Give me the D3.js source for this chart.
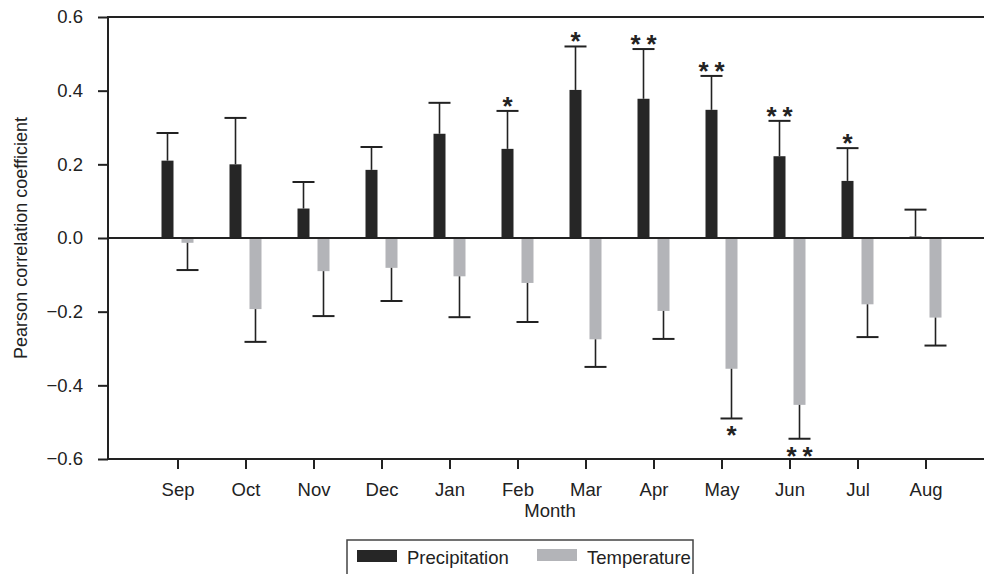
<!DOCTYPE html>
<html>
<head>
<meta charset="utf-8">
<script src="https://cdn.jsdelivr.net/npm/d3@7"></script>
<style>
  html, body { margin: 0; padding: 0; background: #fff; }
  svg { display: block; }
  text { font-family: "Liberation Sans", Arial, Helvetica, sans-serif; fill: #222; }
</style>
</head>
<body>
<svg id="chart" width="984" height="574"></svg>
<script>
const months = ['Sep','Oct','Nov','Dec','Jan','Feb','Mar','Apr','May','Jun','Jul','Aug'];
const precipitation = [0.21, 0.20, 0.08, 0.185, 0.283, 0.242, 0.402, 0.378, 0.348, 0.222, 0.155, 0.004];
const precipitationUpper = [0.285, 0.326, 0.152, 0.247, 0.367, 0.345, 0.52, 0.513, 0.44, 0.318, 0.244, 0.077];
const temperature = [-0.013, -0.193, -0.09, -0.081, -0.104, -0.122, -0.275, -0.198, -0.355, -0.453, -0.18, -0.216];
const temperatureLower = [-0.087, -0.282, -0.212, -0.171, -0.215, -0.228, -0.35, -0.274, -0.49, -0.545, -0.269, -0.292];
const precipitationSig = ['', '', '', '', '', '*', '*', '**', '**', '**', '*', ''];
const temperatureSig = ['', '', '', '', '', '', '', '', '*', '**', '', ''];
const yTicks = [-0.6, -0.4, -0.2, 0.0, 0.2, 0.4, 0.6];
const seriesNames = ['Precipitation', 'Temperature'];
const colors = ['#262626', '#b3b4b8'];
const ink = '#222';

(function () {
const svg = d3.select('#chart');
const mLeft = 108, mRight = 992, mTop = 17, mBottom = 459;

const x = d3.scalePoint().domain(months).range([177.5, 925.5]);
const y = d3.scaleLinear().domain([-0.6, 0.6]).range([mBottom, mTop]);
const barW = 12, off = 10, capW = 22;
const starSize = 26, starSpace = 6;

// Y axis
const yAxis = svg.append('g').attr('transform', `translate(${mLeft},0)`)
  .call(d3.axisLeft(y).tickValues(yTicks).tickFormat(d3.format('.1f')).tickSize(10).tickPadding(15));
yAxis.select('.domain').remove();
yAxis.selectAll('.tick line').attr('stroke', ink).attr('stroke-width', 2);
yAxis.selectAll('.tick text').style('font-size', '18.5px').attr('fill', ink);

// X axis
const xAxis = svg.append('g').attr('transform', `translate(0,${mBottom})`)
  .call(d3.axisBottom(x).tickSize(10).tickPadding(14));
xAxis.select('.domain').remove();
xAxis.selectAll('.tick line').attr('stroke', ink).attr('stroke-width', 2);
xAxis.selectAll('.tick text').style('font-size', '18.5px').attr('fill', ink);

// frame lines
svg.append('line').attr('x1', mLeft).attr('x2', mLeft).attr('y1', mTop - 1).attr('y2', mBottom + 1).attr('stroke', ink).attr('stroke-width', 2);
[0.6, -0.6].forEach(v => {
  svg.append('line').attr('x1', mLeft).attr('x2', mRight).attr('y1', y(v)).attr('y2', y(v)).attr('stroke', ink).attr('stroke-width', 2);
});

function stars(gp, cx, baseline, s) {
  gp.append('text').attr('x', cx + (s.length > 1 ? starSpace / 2 : 0)).attr('y', baseline)
    .attr('text-anchor', 'middle').style('font-size', starSize + 'px').style('font-weight', 'bold')
    .style('letter-spacing', (s.length > 1 ? starSpace : 0) + 'px').text(s);
}

// bars
const g = svg.append('g');
months.forEach((m, i) => {
  const cx = x(m);
  const py = y(precipitation[i]);
  g.append('rect').attr('x', cx - off - barW / 2).attr('width', barW)
    .attr('y', py).attr('height', Math.max(1.5, y(0) - py)).attr('fill', colors[0]);
  const pu = y(precipitationUpper[i]);
  g.append('line').attr('x1', cx - off).attr('x2', cx - off).attr('y1', py).attr('y2', pu).attr('stroke', ink).attr('stroke-width', 1.6);
  g.append('line').attr('x1', cx - off - capW / 2).attr('x2', cx - off + capW / 2).attr('y1', pu).attr('y2', pu).attr('stroke', ink).attr('stroke-width', 2);
  if (precipitationSig[i]) stars(g, cx - off, pu + 4, precipitationSig[i]);
  const ty = y(temperature[i]);
  g.append('rect').attr('x', cx + off - barW / 2).attr('width', barW)
    .attr('y', y(0)).attr('height', ty - y(0)).attr('fill', colors[1]);
  const tl = y(temperatureLower[i]);
  g.append('line').attr('x1', cx + off).attr('x2', cx + off).attr('y1', ty).attr('y2', tl).attr('stroke', ink).attr('stroke-width', 1.6);
  g.append('line').attr('x1', cx + off - capW / 2).attr('x2', cx + off + capW / 2).attr('y1', tl).attr('y2', tl).attr('stroke', ink).attr('stroke-width', 2);
  if (temperatureSig[i]) stars(g, cx + off, tl + 26, temperatureSig[i]);
});

// zero line
svg.append('line').attr('x1', mLeft).attr('x2', mRight).attr('y1', y(0)).attr('y2', y(0)).attr('stroke', ink).attr('stroke-width', 2);

// axis titles
svg.append('text').attr('x', 550).attr('y', 517).attr('text-anchor', 'middle').style('font-size', '18.5px').text('Month');
svg.append('text').attr('transform', `translate(27,${(mTop + mBottom) / 2}) rotate(-90)`).attr('text-anchor', 'middle')
  .style('font-size', '18px').text('Pearson correlation coefficient');

// legend
const lg = svg.append('g');
lg.append('rect').attr('x', 347).attr('y', 540).attr('width', 346).attr('height', 50)
  .attr('fill', 'none').attr('stroke', '#444').attr('stroke-width', 1.5);
const legendX = [357, 537];
seriesNames.forEach((s, i) => {
  lg.append('rect').attr('x', legendX[i]).attr('y', 550 - i).attr('width', 40).attr('height', 12).attr('fill', colors[i]);
  lg.append('text').attr('x', legendX[i] + 50).attr('y', 564).style('font-size', '18.5px').text(s);
});
})();
</script>
</body>
</html>
